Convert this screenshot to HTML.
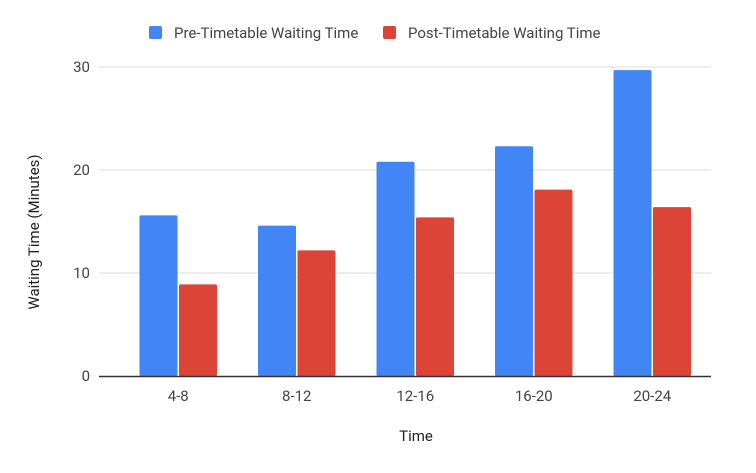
<!DOCTYPE html>
<html><head><meta charset="utf-8"><style>
body{margin:0;background:#fff;font-family:"Liberation Sans",Arial,sans-serif}
svg text{font-family:"Roboto","Liberation Sans",Arial,sans-serif}
</style></head><body>
<svg id="chart" width="756" height="468" xmlns="http://www.w3.org/2000/svg">
<rect width="756" height="468" fill="#fff"/>
<g>
<g>
<rect x="149" y="26" width="13" height="13" rx="2" fill="#4285f4"/>
<text x="174" y="38" font-size="15" fill="#444">Pre-Timetable Waiting Time</text></g>
<g>
<rect x="383" y="26" width="13" height="13" rx="2" fill="#db4437"/>
<text x="408" y="38" font-size="15" fill="#444">Post-Timetable Waiting Time</text></g>
</g>
<g id="grid"></g><g id="bars"></g><g id="xlabels"></g>
<line x1="99" y1="376.5" x2="711" y2="376.5" stroke="#333" stroke-width="1.5"/>
<text x="416" y="441" font-size="15" fill="#222" text-anchor="middle">Time</text>
<text transform="translate(39,232) rotate(-90)" font-size="15" fill="#222" text-anchor="middle">Waiting Time (Minutes)</text>
</svg>
<script>
const categories=["4-8","8-12","12-16","16-20","20-24"];
const preValues=[15.6,14.6,20.8,22.3,29.7];
const postValues=[8.9,12.2,15.4,18.1,16.4];
const yTicks=[0,10,20,30];
const NS="http://www.w3.org/2000/svg";
const y=v=>376-v*10.3;
const band=118.5,x0=119,bw=38;
const cx=i=>x0+band*(i+0.5);
function mk(t,a,p){const e=document.createElementNS(NS,t);for(const k in a)e.setAttribute(k,a[k]);p.appendChild(e);return e;}
const g=document.getElementById('grid');
yTicks.forEach(t=>{
 if(t>0){const l=mk('line',{x1:99,x2:711,y1:y(t),y2:y(t),stroke:'#ddd','stroke-width':1},g);
 
 }
 const tx=mk('text',{x:90,y:y(t)+5,'font-size':15,fill:'#444','text-anchor':'end'},g);tx.textContent=t;
 
 
});
const b=document.getElementById('bars'),xl=document.getElementById('xlabels');
categories.forEach((c,i)=>{
 const r1=mk('rect',{x:cx(i)-bw-0.75,y:y(preValues[i]),width:bw,height:y(0)-y(preValues[i]),fill:'#4285f4',rx:1.5},b);
 
 
 const r2=mk('rect',{x:cx(i)+0.75,y:y(postValues[i]),width:bw,height:y(0)-y(postValues[i]),fill:'#db4437',rx:1.5},b);
 
 
 const t=mk('text',{x:cx(i),y:401,'font-size':15,fill:'#444','text-anchor':'middle'},xl);t.textContent=c;
 
 
});
</script>
</body></html>
